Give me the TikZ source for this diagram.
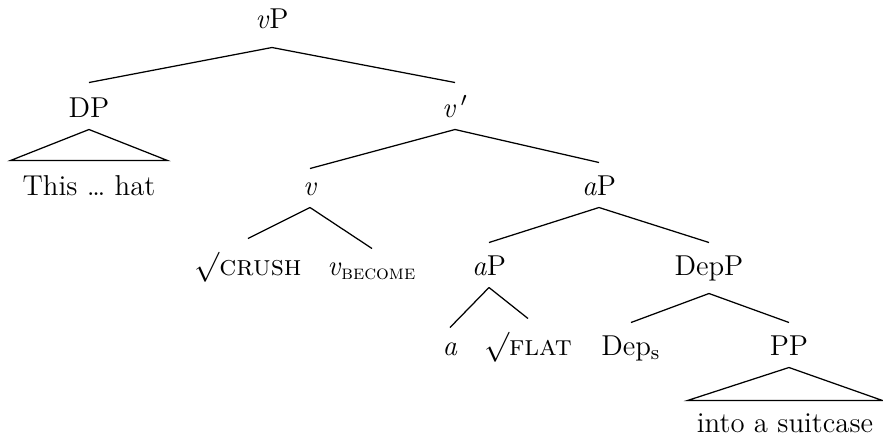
\documentclass[tikz,border=0pt]{standalone}
\usepackage{tikz}

\tikzset{
  lbl/.style={anchor=base, inner sep=0pt, font=\fontsize{11.5}{13}\selectfont,
              text height=12.4pt, text depth=4.8pt},
  leaf/.style={lbl, text height=13.6pt},
  branch/.style={line width=0.5pt}
}

\begin{document}
\begin{tikzpicture}[x=0.4pt, y=-0.4pt]
    \useasboundingbox (0, 0) rectangle (883, 436);

    % Level 0 (root)
    \node[lbl, text depth=7.6pt] (vP) at (272, 28) {\textit{v}P};
    % Level 1
    \node[lbl, text height=13.6pt] (DP) at (89, 117) {DP};
    \node[lbl, text height=13.6pt] (vbar) at (455, 117) {\textit{v}$\,'$};
    % Level 2
    \node[leaf, minimum width=62.4pt] (hat) at (89, 195) {This \ldots{} hat};
    \node[lbl, text height=10.4pt] (v) at (310, 195) {\textit{v}};
    \node[lbl, text height=12.8pt] (aP) at (599, 195) {\textit{a}P};
    % Level 3
    \node[lbl, text height=14.4pt] (crush) at (248, 275) {$\surd$\textsc{crush}};
    \node[lbl, text height=10.4pt] (become) at (372, 275) {\textit{v}\textsubscript{\textsc{become}}};
    \node[lbl, text height=12.8pt] (aPlow) at (489, 275) {\textit{a}P};
    \node[lbl, text height=12.8pt, text depth=7.2pt] (DepP) at (709, 275) {DepP};
    % Level 4
    \node[lbl, text height=10.8pt] (a) at (450, 355) {\textit{a}};
    \node[lbl, text height=14.4pt] (flat) at (528, 355) {$\surd$\textsc{flat}};
    \node[lbl, text height=12.8pt] (Dep) at (631, 355) {Dep\textsubscript{s}};
    \node[lbl, text height=12.8pt] (PP) at (789, 355) {PP};
    % Level 5
    \node[leaf, text height=12.4pt, text depth=0.4pt, minimum width=77.6pt] (suitcase) at (785, 432) {into a suitcase};

    % Branches
    \draw[branch] (vP.south) -- (DP.north);
    \draw[branch] (vP.south) -- (vbar.north);
    \draw[branch] (DP.south) -- (hat.north west) -- (hat.north east) -- cycle;
    \draw[branch] (vbar.south) -- (v.north);
    \draw[branch] (vbar.south) -- (aP.north);
    \draw[branch] (v.south) -- (crush.north);
    \draw[branch] (v.south) -- (become.north);
    \draw[branch] (aP.south) -- (aPlow.north);
    \draw[branch] (aP.south) -- (DepP.north);
    \draw[branch] (aPlow.south) -- (a.north);
    \draw[branch] (aPlow.south) -- (flat.north);
    \draw[branch] (DepP.south) -- (Dep.north);
    \draw[branch] (DepP.south) -- (PP.north);
    \draw[branch] (PP.south) -- (suitcase.north west) -- (suitcase.north east) -- cycle;
\end{tikzpicture}
\end{document}
